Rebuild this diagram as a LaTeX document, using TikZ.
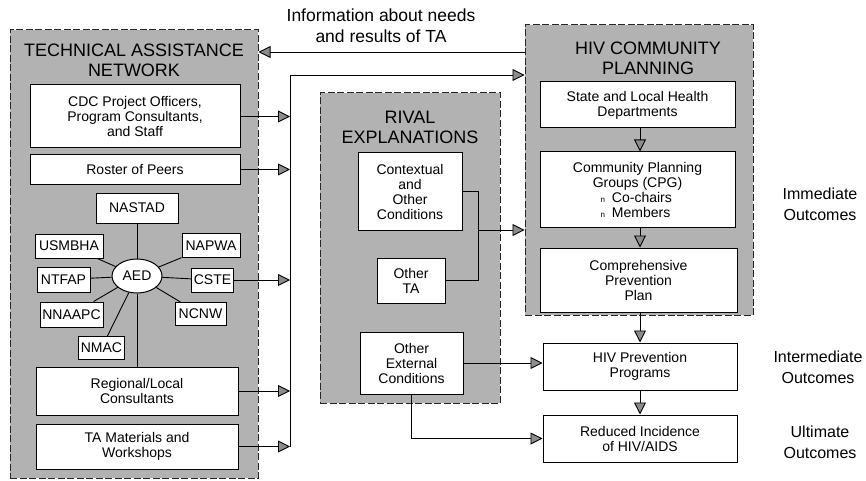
\documentclass[tikz,border=0pt]{standalone}
\usepackage{fontspec}
\setmainfont{Liberation Sans}
\usetikzlibrary{arrows.meta,shapes.geometric}
\definecolor{stipple}{gray}{0.70}
\definecolor{tipgray}{gray}{0.55}

\begin{document}
\begin{tikzpicture}[x=1pt,y=-1pt,line width=0.9pt,
  >={Triangle[length=12pt,width=12pt,fill=tipgray]},
  zone/.style={draw=black!85,fill=stipple,dash pattern=on 7pt off 2.5pt,line width=1pt},
  box/.style={draw,fill=white,line width=1pt,align=center,inner sep=1pt,font=\fontsize{14}{15}\selectfont},
  org/.style={box,inner sep=2pt},
  heading/.style={align=center,font=\fontsize{18}{20}\selectfont},
  outcome/.style={align=center,font=\fontsize{16}{21}\selectfont}]
\useasboundingbox (0,0) rectangle (866,481);
\node[zone,minimum width=248pt,minimum height=448pt] (tanet) at (134,254) {};
\node[zone,minimum width=180pt,minimum height=310pt] (rival) at (410,248) {};
\node[zone,minimum width=228pt,minimum height=290pt] (hivcp) at (639,170) {};
\node[heading] at (134,60) {TECHNICAL ASSISTANCE\\NETWORK};
\node[heading] at (410,127) {RIVAL\\EXPLANATIONS};
\node[heading] at (648,58) {HIV COMMUNITY\\PLANNING};
\node[align=center,font=\fontsize{17.5}{21}\selectfont] (info) at (381,26) {Information about needs\\and results of TA};
\node[box,minimum width=210pt,minimum height=63pt] (cdc) at (135,116.5) {CDC Project Officers,\\Program Consultants,\\and Staff};
\node[box,minimum width=210pt,minimum height=29pt] (roster) at (135,169.5) {Roster of Peers};
\node[org,minimum width=82pt,minimum height=30pt] (nastad) at (137,208) {NASTAD};
\node[org,minimum width=68pt,minimum height=24pt] (usmbha) at (69,246) {USMBHA};
\node[org,minimum width=58pt,minimum height=24pt] (napwa) at (211,245.5) {NAPWA};
\node[org,minimum width=53pt,minimum height=25pt] (ntfap) at (63.5,279.5) {NTFAP};
\node[org,minimum width=42pt,minimum height=24pt] (cste) at (212.5,280) {CSTE};
\node[org,minimum width=63pt,minimum height=25pt] (nnaapc) at (71.5,314.5) {NNAAPC};
\node[org,minimum width=51pt,minimum height=23pt] (ncnw) at (200.5,314) {NCNW};
\node[org,minimum width=43pt,minimum height=23pt] (nmac) at (101.5,348) {NMAC};
\node[draw,ellipse,fill=white,line width=1pt,minimum width=50pt,minimum height=34pt,inner sep=0pt,font=\fontsize{14}{15}\selectfont] (aed) at (137,276) {AED};
\node[box,minimum width=202pt,minimum height=48pt] (regional) at (137,391) {Regional/Local\\Consultants};
\node[box,minimum width=202pt,minimum height=45pt] (tamat) at (137,446.5) {TA Materials and\\Workshops};
\draw (nastad) -- (aed) -- (regional);
\draw (aed) -- (usmbha);
\draw (aed) -- (napwa);
\draw (aed) -- (ntfap);
\draw (aed) -- (cste);
\draw (aed) -- (nnaapc);
\draw (aed) -- (ncnw);
\draw (aed) -- (nmac);
\node[box,minimum width=104pt,minimum height=77pt] (context) at (410,191.5) {Contextual\\and\\Other\\Conditions};
\node[box,minimum width=68pt,minimum height=45pt] (othta) at (411,280.5) {Other\\TA};
\node[box,minimum width=103pt,minimum height=62pt] (othext) at (411.5,363) {Other\\External\\Conditions};
\node[box,minimum width=195pt,minimum height=46pt] (state) at (637.5,105) {State and Local Health\\Departments};
\node[box,minimum width=195pt,minimum height=75pt] (cpg) at (637.5,189.5) {Community Planning\\Groups (CPG)\\\makebox[74pt][l]{{\fontsize{8}{8}\selectfont n}\hspace{7pt}Co-chairs}\\\makebox[74pt][l]{{\fontsize{8}{8}\selectfont n}\hspace{7pt}Members}};
\node[box,minimum width=197pt,minimum height=64pt] (comp) at (638.5,280) {Comprehensive\\Prevention\\Plan};
\node[box,minimum width=194pt,minimum height=47pt] (hivprog) at (640,366.5) {HIV Prevention\\Programs};
\node[box,minimum width=194pt,minimum height=47pt] (reduce) at (640,438.5) {Reduced Incidence\\of HIV/AIDS};
\node[outcome] at (820,204) {Immediate\\Outcomes};
\node[outcome] at (818,367) {Intermediate\\Outcomes};
\node[outcome] at (820,442) {Ultimate\\Outcomes};
\coordinate (bus) at (290,75);
\coordinate (fbk) at (390,52);
\coordinate (riv) at (478,230);
\draw[->] (hivcp.west |- fbk) -- (tanet.east |- fbk);
\draw[->] (bus |- tamat.east) -- (bus) -- (hivcp.west |- bus);
\draw[->] (cdc.east) -- (cdc.east -| bus);
\draw[->] (roster.east) -- (roster.east -| bus);
\draw[->] (cste.east) -- (cste.east -| bus);
\draw[->] (regional.east) -- (regional.east -| bus);
\draw[->] (tamat.east) -- (tamat.east -| bus);
\draw (othta.east) -| (riv |- context.east) -- (context.east);
\draw[->] (riv) -- (hivcp.west |- riv);
\draw[->] (othext.east) -- (hivprog.west |- othext.east);
\draw[->] (othext.south) |- (reduce.west);
\draw[->] (state.south -| 640,0) -- (cpg.north -| 640,0);
\draw[->] (cpg.south -| 640,0) -- (comp.north -| 640,0);
\draw[->] (comp.south -| 640,0) -- (hivprog.north);
\draw[->] (hivprog) -- (reduce);
\end{tikzpicture}
\end{document}
